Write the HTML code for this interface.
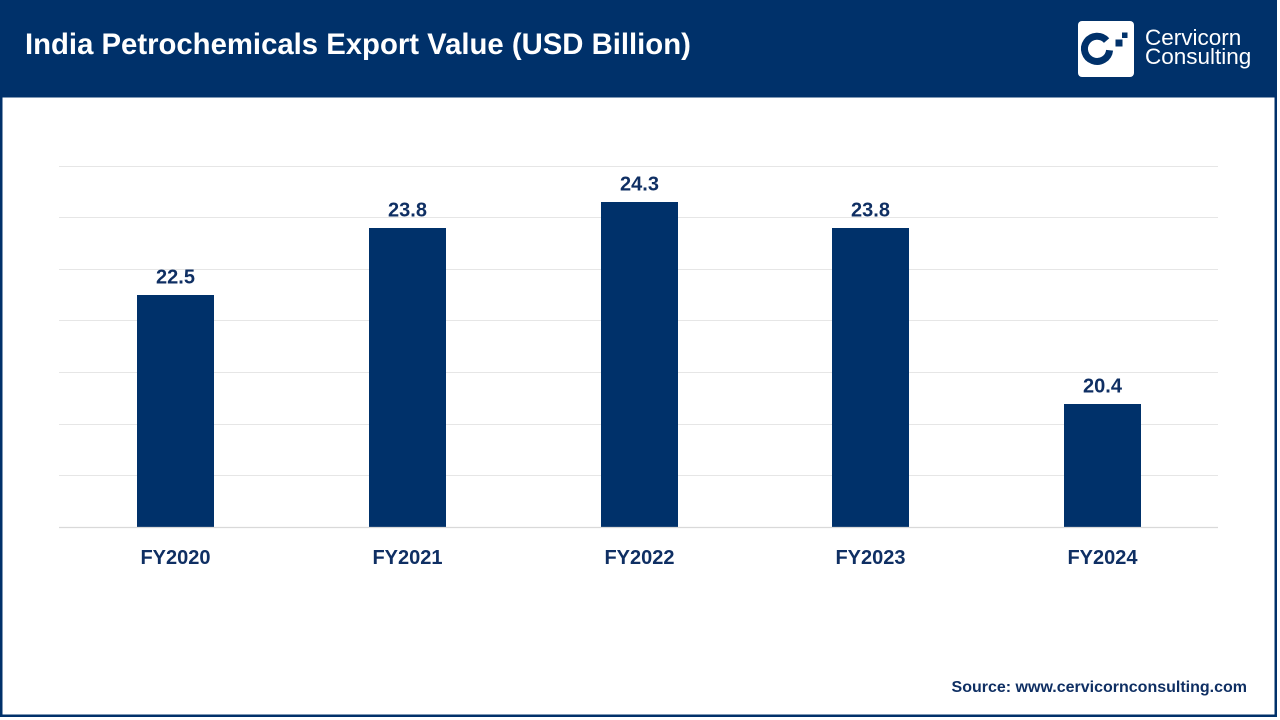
<!DOCTYPE html>
<html>
<head>
<meta charset="utf-8">
<style>
  html, body { margin:0; padding:0; background:#ffffff; }
  body { width:1280px; height:720px; overflow:hidden; position:relative; }
  svg { position:absolute; left:0; top:0; }
  text { font-family: "Liberation Sans", Arial, sans-serif; }
</style>
</head>
<body>
<svg width="1280" height="720" viewBox="0 0 1280 720" xmlns="http://www.w3.org/2000/svg">
  <!-- frame -->
  <rect x="0" y="0" width="1280" height="720" fill="#ffffff"/>
  <rect x="1.25" y="1.25" width="1274.5" height="714.5" fill="#ffffff" stroke="#00316a" stroke-width="2.5"/>
  <!-- header -->
  <rect x="0" y="0" width="1277" height="97.5" fill="#00316a"/>
  <text x="25" y="54" font-size="29.3" font-weight="bold" fill="#ffffff">India Petrochemicals Export Value (USD Billion)</text>

  <!-- logo -->
  <rect x="1078" y="21" width="56" height="56" rx="4" ry="4" fill="#ffffff"/>
  <path d="M1106.6 40.6 A12.6 12.6 0 1 0 1109.6 50.2" fill="none" stroke="#00316a" stroke-width="7"/>
  <rect x="1115.5" y="39.5" width="7" height="7" fill="#00316a"/>
  <rect x="1122" y="32.5" width="5.5" height="5.5" fill="#00316a"/>
  <text x="1145" y="45" font-size="22.5" fill="#ffffff">Cervicorn</text>
  <text x="1145" y="64" font-size="22.5" fill="#ffffff">Consulting</text>

  <!-- gridlines -->
  <g stroke="#e6e6e6" stroke-width="1">
    <line x1="59" y1="166.5" x2="1218" y2="166.5"/>
    <line x1="59" y1="217.5" x2="1218" y2="217.5"/>
    <line x1="59" y1="269.5" x2="1218" y2="269.5"/>
    <line x1="59" y1="320.5" x2="1218" y2="320.5"/>
    <line x1="59" y1="372.5" x2="1218" y2="372.5"/>
    <line x1="59" y1="424.5" x2="1218" y2="424.5"/>
    <line x1="59" y1="475.5" x2="1218" y2="475.5"/>
  </g>

  <!-- bars -->
  <g fill="#00316a">
    <rect x="137" y="295" width="77" height="232"/>
    <rect x="369" y="228" width="77" height="299"/>
    <rect x="601" y="202" width="77" height="325"/>
    <rect x="832" y="228" width="77" height="299"/>
    <rect x="1064" y="404" width="77" height="123"/>
  </g>

  <!-- axis line -->
  <line x1="59" y1="527.5" x2="1218" y2="527.5" stroke="#d9d9d9" stroke-width="1.2"/>

  <!-- value labels -->
  <g font-size="20" font-weight="bold" fill="#0f2f63" text-anchor="middle">
    <text x="175.5" y="283.5">22.5</text>
    <text x="407.5" y="216.5">23.8</text>
    <text x="639.5" y="190.5">24.3</text>
    <text x="870.5" y="216.5">23.8</text>
    <text x="1102.5" y="392.5">20.4</text>
  </g>

  <!-- category labels -->
  <g font-size="20" font-weight="bold" fill="#0f2f63" text-anchor="middle">
    <text x="175.5" y="564">FY2020</text>
    <text x="407.5" y="564">FY2021</text>
    <text x="639.5" y="564">FY2022</text>
    <text x="870.5" y="564">FY2023</text>
    <text x="1102.5" y="564">FY2024</text>
  </g>

  <!-- source -->
  <text x="1247" y="692" font-size="16" font-weight="bold" fill="#0f2f63" text-anchor="end">Source: www.cervicornconsulting.com</text>
</svg>
</body>
</html>
